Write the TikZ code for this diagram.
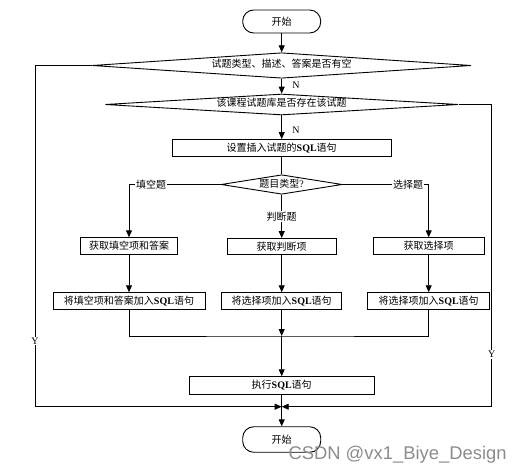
\documentclass[tikz,border=0pt]{standalone}
\usepackage{fontspec}
\setmainfont{Noto Sans CJK SC}
\newfontfamily\lat{Liberation Serif}
\newfontfamily\wmfont{Liberation Sans}
\usetikzlibrary{shapes.geometric,arrows.meta}
\begin{document}
\begin{tikzpicture}[x=1pt,y=-1pt,
  every node/.style={font=\fontsize{10}{12}\selectfont},
  box/.style={draw,line width=0.9pt,minimum height=17pt,inner sep=0pt},
  term/.style={draw,line width=0.9pt,rounded corners=11pt,minimum width=78pt,inner sep=0pt},
  dia/.style={draw,line width=0.9pt,diamond,aspect=6,inner sep=0pt,text height=6pt,text depth=1pt},
  arr/.style={-{Triangle[length=7pt,width=6pt]}},
  ln/.style={line width=0.9pt},
  lbl/.style={fill=white,inner sep=1pt},
  yn/.style={font=\lat\fontsize{10}{12}\selectfont,inner sep=1pt},
]
\useasboundingbox (0,0) rectangle (521,473);
\node[term,minimum height=23pt] (start) at (281.7,21.5) {开始};
\node[dia,aspect=14,minimum width=379pt,minimum height=25.5pt] (d1) at (281.7,65.5) {试题类型、描述、答案是否有空};
\node[dia,aspect=14,minimum width=353pt,minimum height=21pt] (d2) at (281.7,104.5) {该课程试题库是否存在该试题};
\node[box,minimum width=219pt] (set) at (281.7,148) {设置插入试题的{\lat\bfseries SQL}语句};
\node[dia,minimum width=121pt,minimum height=19.5pt] (d3) at (281.7,184.5) {题目类型{\lat ?}};
\node[box,minimum width=97pt,minimum height=16.5pt] (b1) at (129,246) {获取填空项和答案};
\node[box,minimum width=109pt,minimum height=16pt] (b2) at (281.7,246.5) {获取判断项};
\node[box,minimum width=110.7pt,minimum height=16.5pt] (b3) at (428.7,246) {获取选择项};
\node[box,minimum width=152pt,minimum height=16.6pt] (b4) at (129,301) {将填空项和答案加入{\lat\bfseries SQL}语句};
\node[box,minimum width=120pt,minimum height=16.6pt] (b5) at (281.7,301) {将选择项加入{\lat\bfseries SQL}语句};
\node[box,minimum width=121.7pt,minimum height=16.6pt] (b6) at (428.7,301) {将选择项加入{\lat\bfseries SQL}语句};
\coordinate (j1) at (281.7,336);
\node[box,minimum width=184.7pt,minimum height=17.6pt] (exec) at (281.7,385.5) {执行{\lat\bfseries SQL}语句};
\coordinate (j2) at (281.7,406.7);
\node[term,minimum height=25.5pt] (end) at (281.7,439.5) {开始};
\coordinate (lx) at (35,0);
\coordinate (rx) at (491.7,0);

\draw[ln,arr] (start) -- (d1);
\draw[ln,arr] (d1) -- (d2);
\draw[ln,arr] (d2) -- (set);
\draw[ln] (set) -- (d3);
\draw[ln,arr] (d3.west) -| (b1.north);
\draw[ln,arr] (d3.east) -| (b3.north);
\draw[ln,arr] (d3.south) -- (b2.north);
\draw[ln,arr] (b1) -- (b4);
\draw[ln,arr] (b2) -- (b5);
\draw[ln,arr] (b3) -- (b6);
\draw[ln] (b4.south) |- (j1) -| (b6.south);
\draw[ln,arr] (b5.south) -- (j1);
\draw[ln,arr] (j1) -- (exec.north);
\draw[ln] (exec.south) -- (j2);
\draw[ln,arr] (j2) -- (end.north);
\draw[ln,arr] (d1.west) -| (lx |- j2) -- (j2);
\draw[ln,arr] (d2.east) -| (rx |- j2) -- (j2);

\node[yn] (n1) at (296,85) {N};
\node[yn] (n2) at (296,130) {N};
\node[yn,fill=white] (y1) at (35,341) {Y};
\node[yn,fill=white] (y2) at (491.7,354.3) {Y};
\node[lbl] (l1) at (151,184.5) {填空题};
\node[lbl] (l2) at (408,184.5) {选择题};
\node[lbl] (l3) at (281.7,216.7) {判断题};
\node[anchor=base west,inner sep=0pt,text=black!45,font=\wmfont\fontsize{18.4}{20}\selectfont] (wm) at (288.3,459.3) {CSDN @vx1\_Biye\_Design};
\end{tikzpicture}
\end{document}
